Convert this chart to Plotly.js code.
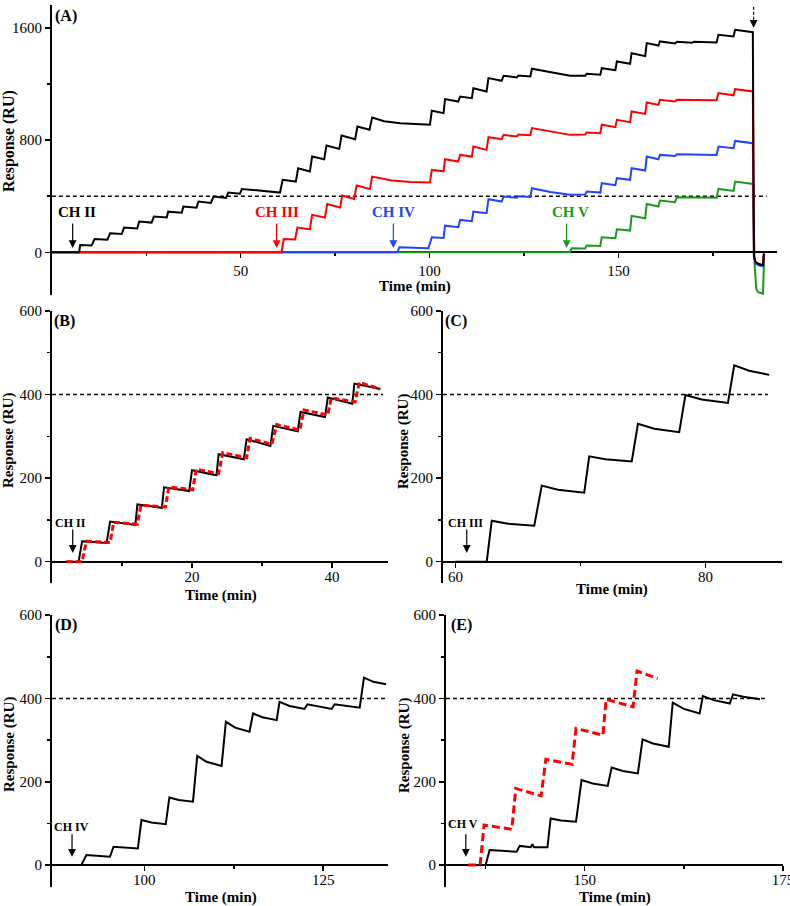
<!DOCTYPE html>
<html>
<head>
<meta charset="utf-8">
<script src="https://cdn.plot.ly/plotly-3.0.1.min.js"></script>
<style>html,body{margin:0;padding:0;background:#fff;}#chart{width:790px;height:906px;}</style>
</head>
<body>
<div id="chart"></div>
<script>
// ---------------- DATA ----------------
// Panel A: time (min) and response (RU) for each channel
const aBlackT = [0,7.2,7.5,10.5,11.3,14.7,15.4,18.5,19.1,22.6,23.1,26.4,27,30.4,30.8,34.4,34.8,38.3,38.8,42.1,42.8,46.1,46.7,49.8,50.3,55,60.4,61.1,64.6,65.2,68.3,68.9,72.1,72.7,76.1,76.7,80.3,80.9,84.1,84.8,88,92.2,96,100.1,100.6,103.7,104.1,107.6,108.1,111.2,111.6,115.1,115.6,119.1,119.6,123.1,123.5,126.7,127.1,132,137.2,141.2,141.6,145.2,145.6,149.2,149.6,153.1,153.5,157.1,157.5,160.6,161,165,165.5,169.5,170,176,176.5,180.5,180.9,185.6,185.9,186.3,187.3,188.3,188.5];
const aBlackY = [0,0,52,48,95,90,136,130,176,170,219,212,255,248,290,282,326,318,362,352,398,388,426,418,452,440,426,517,505,600,576,683,664,762,738,833,807,898,874,962,935,921,915,910,1010,993,1093,1076,1112,1100,1171,1148,1243,1224,1260,1248,1262,1255,1310,1285,1260,1260,1274,1268,1314,1300,1362,1345,1421,1400,1493,1476,1505,1490,1502,1495,1503,1498,1552,1540,1588,1571,-30,-70,-85,-90,-10];
const aRedT = [0,60.8,61.4,64.4,65,68.3,68.9,72.3,72.9,76.3,76.9,80,80.7,84.2,84.8,90,95,100.1,100.6,103.7,104.1,107.6,108.1,111.2,111.6,115.1,115.6,119.1,119.6,123.1,123.5,126.7,127.1,132,137.2,141.2,141.6,145.2,145.6,149.2,149.6,153.1,153.5,157.1,157.5,160.6,161,165,165.5,176,176.5,180.5,180.9,185.6,185.9,186.3,187.3,188.3,188.5];
const aRedY = [0,0,95,92,176,164,267,248,345,319,405,381,476,452,540,512,502,498,588,578,664,648,695,683,755,731,821,807,838,826,840,835,886,862,838,840,855,850,910,893,945,929,1005,988,1069,1052,1088,1076,1088,1086,1136,1120,1164,1148,-30,-70,-85,-90,-10];
const aBlueT = [0,91.5,92,99.7,100.6,103.7,104.1,107.6,108.1,111.2,111.6,115.1,115.6,119.1,119.6,123.1,123.5,126.7,127.1,132,137.2,141.2,141.6,145.2,145.6,149.2,149.6,153.1,153.5,157.1,157.5,160.6,161,165,165.5,176,176.5,180.5,180.9,185.6,185.9,186.3,187.3,188.3,188.6];
const aBlueY = [0,0,36,29,107,102,190,179,231,222,290,279,379,362,398,390,400,395,457,430,410,412,433,426,493,479,529,517,600,583,683,664,695,688,700,695,755,743,795,779,-30,-80,-95,-100,-10];
const aGreenT = [0,137.2,137.6,141.2,141.6,145.2,145.6,149.2,149.6,153.1,153.5,157.1,157.5,160.6,161,165,165.5,176,176.5,180.5,180.9,185.6,186.1,186.5,187,188,188.3,188.6];
const aGreenY = [0,0,29,27,48,45,107,100,164,155,260,243,345,326,369,357,393,390,452,438,505,488,-100,-260,-285,-295,-295,-10];

// Panel B: CH II (black solid, red dashed)
const bBlackT = [2,3.8,4.3,7.8,8.3,11.9,12.2,15.7,16,19.6,20,23.5,23.8,27.4,27.8,31.2,31.6,35.1,35.5,39,39.4,42.9,43.2,46.9];
const bBlackY = [0,0,49,45,96,88,137,129,178,169,219,207,257,245,293,277,325,312,358,346,393,378,426,413];
const bRedT = [2.1,4.3,4.9,8.3,8.8,12.2,12.7,16.2,16.7,20.1,20.6,23.8,24.4,27.8,28.3,31.4,32.1,35.4,36,39.4,39.9,43.3,43.9,46.9];
const bRedY = [0,0,49,46,94,90,135,131,179,172,221,211,261,249,295,281,328,315,363,351,392,382,429,413];

// Panel C: CH III
const cBlackT = [60,62.5,62.9,64.2,66.3,66.9,68.2,70.3,70.7,72,74.1,74.6,75.9,77.9,78.4,79.7,81.8,82.3,83.5,85.1];
const cBlackY = [0,0,98,91,86,182,172,165,252,245,240,330,318,310,399,388,380,470,457,447];

// Panel D: CH IV
const dBlackT = [87.5,91.2,91.9,95.2,95.7,99.1,99.6,101,103,103.5,104.8,106.8,107.4,108.7,110.8,111.4,112.7,114.7,115.2,116.5,118.5,118.9,120.3,122.4,122.8,126.2,126.6,130.1,130.7,132,133.8];
const dBlackY = [0,0,24,20,44,40,108,102,98,162,156,152,262,248,238,344,330,320,364,355,348,392,382,375,386,375,386,378,450,440,434];

// Panel E: CH V (black solid, red dashed)
const eBlackT = [135.5,137.5,138,141.4,141.8,143.2,143.4,143.6,145.3,145.7,147,148.9,149.6,151,152.9,153.4,154.8,156.7,157.3,158.6,160.6,161.1,162.5,164.5,164.9,166.3,168.3,168.7,170,172.1];
const eBlackY = [0,0,36,32,46,43,50,43,43,112,107,104,204,196,190,234,226,220,302,292,284,390,375,364,406,396,388,410,404,398];
const eRedT = [135.3,136.8,137.3,140.8,141.3,144.5,145.1,148.4,148.9,152.3,152.7,156.1,156.6,159.2];
const eRedY = [0,0,96,86,184,166,254,242,328,312,398,380,466,448];

// Reference level (dashed line) per panel: [start, end] times
const refLevel = 400;
const refA = [0, 189.3];
const refB = [0, 47.3];
const refC = [59, 85];
const refD = [87.1, 134.1];
const refE = [132.5, 173.1];

// Axis ranges and tick labels
const rangeXA = [0, 192],     rangeYA = [-305, 1765];
const rangeXB = [0, 48],      rangeYB = [-50, 600.5];
const rangeXC = [59, 86.1],   rangeYC = [-50, 600.5];
const rangeXD = [87.1, 134.1],rangeYD = [-52, 600.5];
const rangeXE = [132.5, 175.05], rangeYE = [-52, 600.5];
const ticksXA = [50, 100, 150],  minorXA = [25, 75, 125, 175];
const ticksYA = [0, 800, 1600],  minorYA = [400, 1200];
const ticksXB = [20, 40],        minorXB = [10, 30];
const ticksXC = [60, 80],        minorXC = [70];
const ticksXD = [100, 125],      minorXD = [112.5];
const ticksXE = [150, 175],      minorXE = [137.5, 162.5];
const ticksYsub = [0, 200, 400, 600], minorYsub = [100, 300, 500];

// Annotated events (channel injections)
const chNames = ['CH II', 'CH III', 'CH IV', 'CH V'];
const chArrowA = [5.5, 59.5, 90.4, 136.3];
const chTextA = [6.6, 59.6, 90.5, 137.2];
const regenTime = 185.8;

// ---------------- STYLE ----------------
const FONT = 'Liberation Serif, Times New Roman, serif';
const BLACK = '#000000', RED = '#ff0000', BLUE = '#1f45ff', GREEN = '#1a9a1a';
const W = 790, H = 906;
// subplot boxes in pixels [x0, x1, y0(top), y1(bottom)]
const box = {
  A: [51.9, 777, 5, 295],
  B: [52, 388, 310.7, 582.6],
  C: [443, 781.7, 310.7, 582.6],
  D: [52, 388.3, 615, 886.7],
  E: [446, 783.3, 615, 886.7]
};
const xd = b => [b[0] / W, b[1] / W];
const yd = b => [1 - b[3] / H, 1 - b[2] / H];

function line(x, y, color, xa, ya, width, dash) {
  return {x: x, y: y, type: 'scatter', mode: 'lines', xaxis: xa, yaxis: ya,
    line: {color: color, width: width || 2, dash: dash || 'solid', shape: 'linear'},
    hoverinfo: 'skip', showlegend: false};
}
function ref(r, xa, ya) {
  return line(r, [refLevel, refLevel], BLACK, xa, ya, 1.3, '4px,3px');
}

const data = [
  ref(refA, 'x', 'y'),
  line(aGreenT, aGreenY, GREEN, 'x', 'y'),
  line(aBlueT, aBlueY, BLUE, 'x', 'y'),
  line(aRedT, aRedY, RED, 'x', 'y'),
  line(aBlackT, aBlackY, BLACK, 'x', 'y'),
  ref(refB, 'x2', 'y2'),
  line(bBlackT, bBlackY, BLACK, 'x2', 'y2', 2),
  line(bRedT, bRedY, RED, 'x2', 'y2', 3, '6px,3px'),
  ref(refC, 'x3', 'y3'),
  line(cBlackT, cBlackY, BLACK, 'x3', 'y3', 2),
  ref(refD, 'x4', 'y4'),
  line(dBlackT, dBlackY, BLACK, 'x4', 'y4', 2),
  ref(refE, 'x5', 'y5'),
  line(eBlackT, eBlackY, BLACK, 'x5', 'y5', 2),
  line(eRedT, eRedY, RED, 'x5', 'y5', 3, '8px,4px')
];

function xAxis(b, range, yRange, tv, mv, standoff) {
  const ydm = yd(b);
  const pos = ydm[0] + (0 - yRange[0]) / (yRange[1] - yRange[0]) * (ydm[1] - ydm[0]);
  return {domain: xd(b), range: range, anchor: 'free', position: pos,
    showline: true, linecolor: BLACK, linewidth: 2, showgrid: false, zeroline: false,
    ticks: 'outside', ticklen: 5, tickwidth: 1.5, tickcolor: BLACK,
    tickmode: 'array', tickvals: tv, ticktext: tv.map(String),
    ticklabelstandoff: standoff || 0, ticklabeloverflow: 'allow',
    minor: {tickmode: 'array', tickvals: mv, ticks: 'outside', ticklen: 3, tickwidth: 1.5, tickcolor: BLACK, showgrid: false},
    tickfont: {family: FONT, size: 15, color: BLACK}, layer: 'below traces', fixedrange: true};
}
function yAxis(b, range, anchor, tv, mv) {
  return {domain: yd(b), range: range, anchor: anchor,
    showline: true, linecolor: BLACK, linewidth: 2, showgrid: false, zeroline: false,
    ticks: 'outside', ticklen: 5, tickwidth: 1.5, tickcolor: BLACK,
    tickmode: 'array', tickvals: tv, ticktext: tv.map(String),
    minor: {tickmode: 'array', tickvals: mv, ticks: 'outside', ticklen: 3, tickwidth: 1.5, tickcolor: BLACK, showgrid: false},
    tickfont: {family: FONT, size: 15, color: BLACK}, layer: 'below traces', fixedrange: true};
}

// paper-coordinate text helper (pixel positions)
function ptext(txt, px, py, size, opts) {
  return Object.assign({text: txt, xref: 'paper', yref: 'paper', x: px / W, y: 1 - py / H,
    xanchor: 'center', yanchor: 'middle', showarrow: false,
    font: {family: FONT, size: size, color: BLACK}}, opts || {});
}
function chText(txt, xa, ya, x, y, size, color) {
  return {text: '<b>' + txt + '</b>', xref: xa, yref: ya, x: x, y: y, xanchor: 'center', yanchor: 'middle',
    showarrow: false, font: {family: FONT, size: size, color: color}};
}
function chArrow(xa, ya, x, y, len, color) {
  return {text: '', xref: xa, yref: ya, x: x, y: y, ax: 0, ay: -len, showarrow: true,
    arrowhead: 2, arrowsize: 1.3, arrowwidth: 1.2, arrowcolor: color};
}

const chColors = [BLACK, RED, BLUE, GREEN];
const annotations = [
  ptext('<b>(A)</b>', 66, 16, 16),
  ptext('<b>(B)</b>', 64, 321, 16),
  ptext('<b>(C)</b>', 456, 321, 16),
  ptext('<b>(D)</b>', 66, 625, 16),
  ptext('<b>(E)</b>', 461, 625, 16),
  ptext('<b>Response (RU)</b>', 9, 141, 16, {textangle: -90}),
  ptext('<b>Response (RU)</b>', 9, 441, 15, {textangle: -90}),
  ptext('<b>Response (RU)</b>', 404, 441, 15, {textangle: -90}),
  ptext('<b>Response (RU)</b>', 9, 745, 15, {textangle: -90}),
  ptext('<b>Response (RU)</b>', 404, 745, 15, {textangle: -90}),
  ptext('<b>Time (min)</b>', 414.5, 287, 15),
  ptext('<b>Time (min)</b>', 221, 595, 15),
  ptext('<b>Time (min)</b>', 612, 589, 15),
  ptext('<b>Time (min)</b>', 221, 897, 15),
  ptext('<b>Time (min)</b>', 615, 897, 15),
  // Panel B-E channel markers
  chText('CH II', 'x2', 'y2', 2.7, 93, 12, BLACK), chArrow('x2', 'y2', 2.96, 21, 25, BLACK),
  chText('CH III', 'x3', 'y3', 60.8, 93, 12, BLACK), chArrow('x3', 'y3', 60.9, 21, 25, BLACK),
  chText('CH IV', 'x4', 'y4', 89.8, 91, 12, BLACK), chArrow('x4', 'y4', 89.9, 20, 24, BLACK),
  chText('CH V', 'x5', 'y5', 134.7, 98, 12, BLACK), chArrow('x5', 'y5', 135, 20, 24, BLACK),
  // regeneration marker (arrow head of dashed arrow)
  chArrow('x', 'y', regenTime, 1602, 9, BLACK)
];
chNames.forEach((n, i) => {
  annotations.push(chText(n, 'x', 'y', chTextA[i], 288, 15, chColors[i]));
  annotations.push(chArrow('x', 'y', chArrowA[i], 31, 26, chColors[i]));
});

const shapes = [
  {type: 'line', xref: 'x', yref: 'y', x0: regenTime, x1: regenTime, y0: 1752, y1: 1625,
   line: {color: BLACK, width: 1.2, dash: '3px,2px'}}
];

const layout = {
  width: W, height: H, margin: {l: 0, r: 0, t: 0, b: 0, pad: 0},
  font: {family: FONT, color: BLACK},
  paper_bgcolor: '#ffffff', plot_bgcolor: 'rgba(0,0,0,0)', showlegend: false, hovermode: false,
  xaxis: xAxis(box.A, rangeXA, rangeYA, ticksXA, minorXA, 0),
  yaxis: yAxis(box.A, rangeYA, 'x', ticksYA, minorYA),
  xaxis2: xAxis(box.B, rangeXB, rangeYB, ticksXB, minorXB, -4),
  yaxis2: yAxis(box.B, rangeYB, 'x2', ticksYsub, minorYsub),
  xaxis3: xAxis(box.C, rangeXC, rangeYC, ticksXC, minorXC, -4),
  yaxis3: yAxis(box.C, rangeYC, 'x3', ticksYsub, minorYsub),
  xaxis4: xAxis(box.D, rangeXD, rangeYD, ticksXD, minorXD, -4),
  yaxis4: yAxis(box.D, rangeYD, 'x4', ticksYsub, minorYsub),
  xaxis5: xAxis(box.E, rangeXE, rangeYE, ticksXE, minorXE, -4),
  yaxis5: yAxis(box.E, rangeYE, 'x5', ticksYsub, minorYsub),
  annotations: annotations,
  shapes: shapes
};

Plotly.newPlot('chart', data, layout, {staticPlot: true, displayModeBar: false});
</script>
</body>
</html>
